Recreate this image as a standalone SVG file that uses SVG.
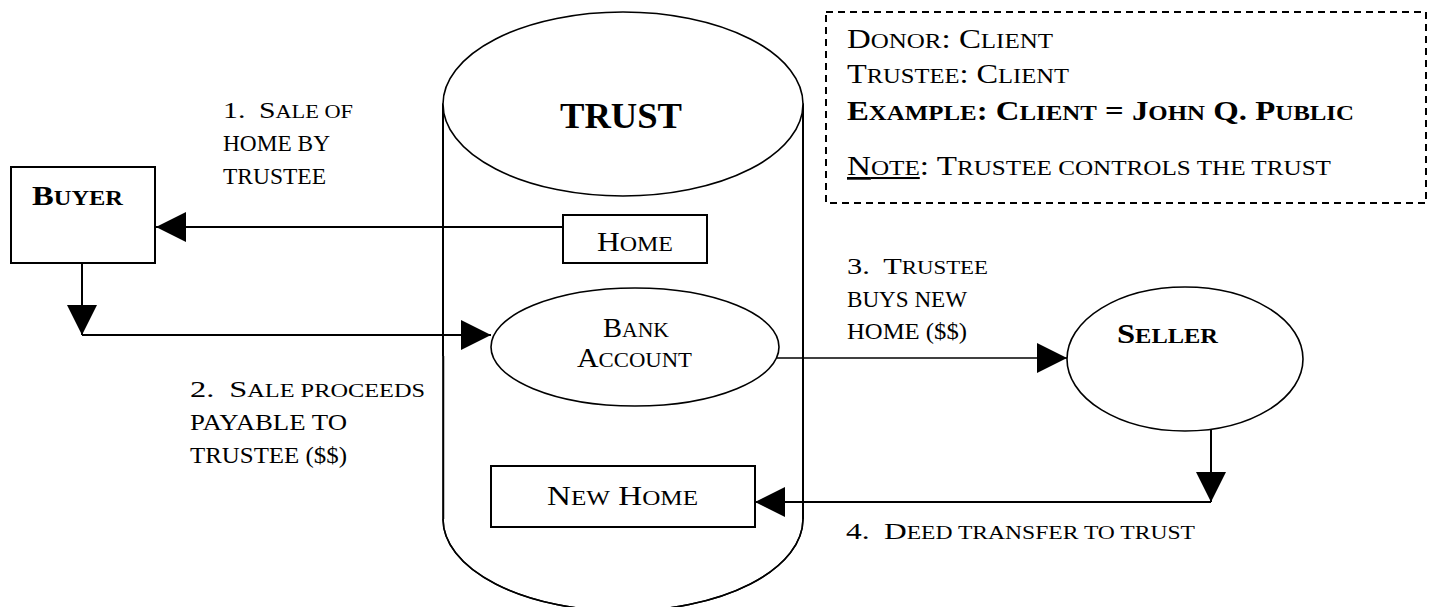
<svg xmlns="http://www.w3.org/2000/svg" width="1434" height="607" viewBox="0 0 1434 607">
  <style>
    .t { font-family: "Liberation Serif", "Times New Roman", serif; fill: #000; }
    .lab { font-size: 24px; }
    .lab .s { font-size: 18px; }
    .nd { font-size: 27px; }
    .nd .s { font-size: 20.5px; }
    .bx { font-size: 27px; }
    .bx .s { font-size: 20.5px; }
    .bd { font-size: 28px; font-weight: bold; }
    .bd .s { font-size: 21px; }
    .shape { fill: #fff; stroke: #000; stroke-width: 2; }
    .ell { fill: #fff; stroke: #000; stroke-width: 1.6; }
    .conn { fill: none; stroke: #000; stroke-width: 2; }
    .thin { stroke-width: 1.5; }
  </style>
  <defs>
    <marker id="arr" markerUnits="userSpaceOnUse" viewBox="0 0 30 30" markerWidth="30" markerHeight="30" refX="30" refY="15" orient="auto">
      <path d="M0,0 L30,15 L0,30 Z" fill="#000"/>
    </marker>
  </defs>
  <rect width="1434" height="607" fill="#fff"/>

  <g id="trust">
    <path class="ell" d="M443,519 A180,92 0 0 0 803,519 L803,104 L443,104 Z" stroke="none"/>
    <path d="M443,104 V356" class="conn"/>
    <path d="M443.5,356 V519" class="conn thin"/>
    <path d="M803,104 V519" class="conn"/>
    <path d="M443,519 A180,92 0 0 0 803,519" class="conn thin"/>
    <ellipse class="ell" cx="623" cy="104" rx="180" ry="92"/>
    <text class="t" x="560" y="128" font-size="36" font-weight="bold" textLength="122" lengthAdjust="spacingAndGlyphs">TRUST</text>
  </g>

  <g id="legend">
    <rect x="826" y="12" width="600" height="191" fill="none" stroke="#000" stroke-width="2" stroke-dasharray="7 5"/>
    <text class="t bx" x="847" y="48" textLength="206" lengthAdjust="spacingAndGlyphs">D<tspan class="s">ONOR</tspan>: C<tspan class="s">LIENT</tspan></text>
    <text class="t bx" x="847" y="83" textLength="222" lengthAdjust="spacingAndGlyphs">T<tspan class="s">RUSTEE</tspan>: C<tspan class="s">LIENT</tspan></text>
    <text class="t bx" x="847" y="120" font-weight="bold" textLength="507" lengthAdjust="spacingAndGlyphs">E<tspan class="s">XAMPLE</tspan>: C<tspan class="s">LIENT</tspan> = J<tspan class="s">OHN</tspan> Q. P<tspan class="s">UBLIC</tspan></text>
    <text class="t bx" x="847" y="175" textLength="484" lengthAdjust="spacingAndGlyphs"><tspan text-decoration="underline">N<tspan class="s">OTE</tspan></tspan>: T<tspan class="s">RUSTEE CONTROLS THE TRUST</tspan></text>
  </g>

  <g id="buyer">
    <rect class="shape" x="11" y="167" width="144" height="96"/>
    <text class="t bd" x="32" y="205" textLength="91" lengthAdjust="spacingAndGlyphs">B<tspan class="s">UYER</tspan></text>
  </g>

  <g id="home">
    <rect class="shape" x="563" y="215" width="144" height="48"/>
    <text class="t nd" x="597" y="251" textLength="76" lengthAdjust="spacingAndGlyphs">H<tspan class="s">OME</tspan></text>
  </g>

  <g id="bank-account">
    <ellipse class="ell" cx="635" cy="347" rx="144" ry="59"/>
    <text class="t nd" x="603" y="337" textLength="66" lengthAdjust="spacingAndGlyphs">B<tspan class="s">ANK</tspan></text>
    <text class="t nd" x="577" y="367" textLength="115" lengthAdjust="spacingAndGlyphs">A<tspan class="s">CCOUNT</tspan></text>
  </g>

  <g id="new-home">
    <rect class="shape" x="491" y="466" width="264" height="61"/>
    <text class="t nd" x="547" y="505" textLength="151" lengthAdjust="spacingAndGlyphs">N<tspan class="s">EW</tspan> H<tspan class="s">OME</tspan></text>
  </g>

  <g id="seller">
    <ellipse class="ell" cx="1185" cy="359" rx="118" ry="72"/>
    <text class="t bd" x="1117" y="343" textLength="101" lengthAdjust="spacingAndGlyphs">S<tspan class="s">ELLER</tspan></text>
  </g>

  <g id="connectors">
    <path class="conn" d="M563,227 H156" marker-end="url(#arr)"/>
    <path class="conn" d="M82,263 V335" marker-end="url(#arr)"/>
    <path class="conn" d="M82,335 H491" marker-end="url(#arr)"/>
    <path class="conn thin" d="M777,358 H1067" marker-end="url(#arr)"/>
    <path class="conn" d="M1211,430 V502" marker-end="url(#arr)"/>
    <path class="conn" d="M1211,502 H755" marker-end="url(#arr)"/>
  </g>

  <g id="labels">
    <text class="t lab" x="223" y="118" textLength="130" lengthAdjust="spacingAndGlyphs">1. <tspan dx="5">S</tspan><tspan class="s">ALE OF</tspan></text>
    <text class="t lab" x="223" y="151" textLength="107" lengthAdjust="spacingAndGlyphs">HOME BY</text>
    <text class="t lab" x="223" y="184" textLength="103" lengthAdjust="spacingAndGlyphs">TRUSTEE</text>

    <text class="t lab" x="190" y="397" textLength="235" lengthAdjust="spacingAndGlyphs">2. <tspan dx="5">S</tspan><tspan class="s">ALE PROCEEDS</tspan></text>
    <text class="t lab" x="190" y="430" textLength="157" lengthAdjust="spacingAndGlyphs">PAYABLE TO</text>
    <text class="t lab" x="190" y="463" textLength="157" lengthAdjust="spacingAndGlyphs">TRUSTEE ($$)</text>

    <text class="t lab" x="847" y="274" textLength="141" lengthAdjust="spacingAndGlyphs">3. <tspan dx="5">T</tspan><tspan class="s">RUSTEE</tspan></text>
    <text class="t lab" x="847" y="307" textLength="120" lengthAdjust="spacingAndGlyphs">BUYS NEW</text>
    <text class="t lab" x="847" y="339" textLength="120" lengthAdjust="spacingAndGlyphs">HOME ($$)</text>

    <text class="t lab" x="846" y="539" textLength="349" lengthAdjust="spacingAndGlyphs">4. <tspan dx="5">D</tspan><tspan class="s">EED TRANSFER TO TRUST</tspan></text>
  </g>
</svg>
